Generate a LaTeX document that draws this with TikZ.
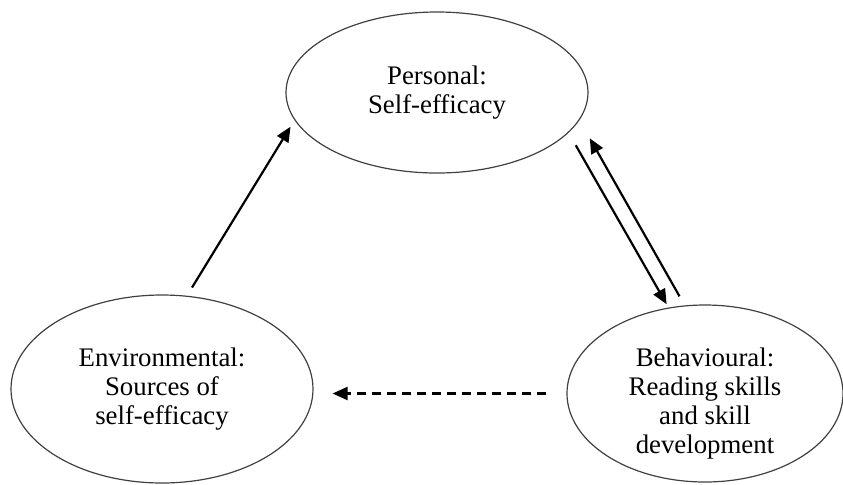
\documentclass[tikz,border=0pt]{standalone}
\usepackage{fontspec}
\setmainfont{Liberation Serif}
\usetikzlibrary{shapes.geometric,arrows.meta}

\begin{document}
\begin{tikzpicture}[x=0.5pt,y=-0.5pt,
        bubble/.style={draw=black!75,line width=0.6pt,ellipse,inner sep=0pt},
        caption/.style={align=center,font=\fontsize{13.4}{14.6}\selectfont},
        arrow/.style={line width=1.1pt,-{Triangle[length=7.5pt,width=6.5pt]}}]
                \useasboundingbox (0,0) rectangle (843,484);

                \node[bubble,minimum width=151pt,minimum height=80.5pt] (pers) at (437,92.5) {};
                \node[bubble,minimum width=151pt,minimum height=94pt] (env) at (162,389) {};
                \node[bubble,minimum width=138pt,minimum height=88.5pt] (beh) at (705,393.5) {};

                \node[caption] (perstext) at (pers) {Personal:\\Self-efficacy};
                \node[caption] (envtext) at (env) {Environmental:\\Sources of\\self-efficacy};
                \node[caption] (behtext) at ([yshift=-5pt]beh.center) {Behavioural:\\Reading skills\\and skill\\development};

                \draw[arrow,shorten <=4.8pt,shorten >=3.8pt] (env.75.6) -- (pers.191.7);
                \draw[arrow,shorten <=7.2pt,shorten >=1.9pt] (pers.-17) -- (beh.113);
                \draw[arrow,shorten <=5.2pt,shorten >=10.4pt] (beh.103.3) -- (pers.-11.9);
                \draw[arrow,dash pattern=on 4.5pt off 3pt,shorten <=10pt,shorten >=9.5pt] (beh.west) -- (beh.west -| env.east);
            \end{tikzpicture}
\end{document}
